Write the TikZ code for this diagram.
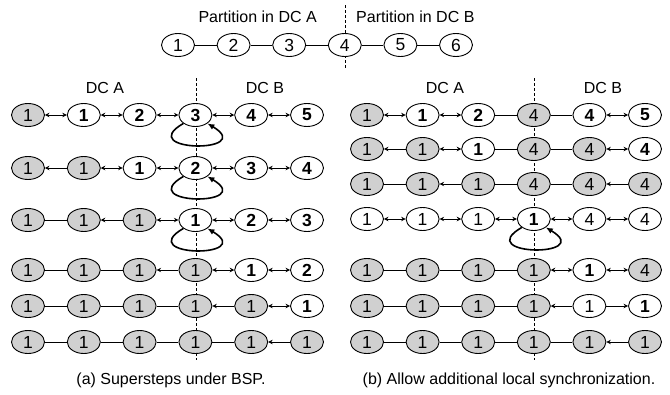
\documentclass[tikz,border=0pt]{standalone}
\usepackage{fontspec}
\setmainfont{Liberation Sans}
\usetikzlibrary{shapes.geometric,arrows.meta}
\definecolor{nodegray}{RGB}{208,208,208}
\newcommand\drawrow[6]{%
  \foreach \s/\t [count=\c] in {#5} {\node[\s] (#1-\c) at ({#3+#4*(\c-1)},#2) {\t};}
  \foreach \e [count=\c] in {#6} {\pgfmathtruncatemacro\d{\c+1}\draw[\e] (#1-\c) -- (#1-\d);}
}
\begin{document}
\begin{tikzpicture}[x=1pt,y=-1pt,
  font=\fontsize{16}{19}\selectfont,
  base/.style={ellipse,draw,line width=0.9pt,minimum width=33pt,minimum height=23pt,inner sep=0pt,font=\fontsize{17.5}{19}\selectfont},
  gnode/.style={base,fill=nodegray},
  wnode/.style={base,fill=white,font=\fontsize{17.5}{19}\selectfont\bfseries},
  nnode/.style={base,fill=white},
  ep/.style={line width=0.8pt},
  eb/.style={line width=0.8pt,{Stealth[length=4.5pt,width=4.5pt]}-{Stealth[length=4.5pt,width=4.5pt]}},
  el/.style={line width=0.8pt,{Stealth[length=4.5pt,width=4.5pt]}-},
  er/.style={line width=0.8pt,-{Stealth[length=4.5pt,width=4.5pt]}},
  divider/.style={line width=0.6pt,dash pattern=on 3pt off 2pt},
  loopar/.style={line width=1.6pt,-{Latex[length=7pt,width=6pt]}},
  lbl/.style={inner sep=0pt}
]
\useasboundingbox (0,0) rectangle (670,394);
% dividers
\coordinate (tdtop) at (345.5,5);
\coordinate (tdbot) at (345.5,68);
\coordinate (adtop) at (196,78);
\coordinate (adbot) at (196,360);
\coordinate (bdtop) at (534,78);
\coordinate (bdbot) at (534,360);
\draw[divider] (tdtop) -- (tdbot);
\draw[divider] (adtop) -- (adbot);
\draw[divider] (bdtop) -- (bdbot);
% top
\node[lbl,anchor=base east] (pa) at (317,22) {Partition in DC A};
\node[lbl,anchor=base west] (pb) at (356,22) {Partition in DC B};
\drawrow{t}{45}{178}{55.6}{nnode/1,nnode/2,nnode/3,nnode/4,nnode/5,nnode/6}{ep,ep,ep,ep,ep}
% panel a
\node[lbl,anchor=base] (adca) at (105,93) {DC A};
\node[lbl,anchor=base] (adcb) at (265,93) {DC B};
\drawrow{a1}{115}{28}{55.8}{gnode/1,wnode/1,wnode/2,wnode/3,wnode/4,wnode/5}{eb,eb,eb,eb,eb}
\drawrow{a2}{168}{28}{55.8}{gnode/1,gnode/1,wnode/1,wnode/2,wnode/3,wnode/4}{el,eb,eb,eb,eb}
\drawrow{a3}{220}{28}{55.8}{gnode/1,gnode/1,gnode/1,wnode/1,wnode/2,wnode/3}{ep,el,eb,eb,eb}
\drawrow{a4}{270}{28}{55.8}{gnode/1,gnode/1,gnode/1,gnode/1,wnode/1,wnode/2}{ep,ep,el,eb,eb}
\drawrow{a5}{306}{28}{55.8}{gnode/1,gnode/1,gnode/1,gnode/1,gnode/1,wnode/1}{ep,ep,ep,el,eb}
\drawrow{a6}{342}{28}{55.8}{gnode/1,gnode/1,gnode/1,gnode/1,gnode/1,gnode/1}{ep,ep,ep,ep,el}
\foreach \r in {a1,a2,a3}{
  \draw[loopar] (\r-4.215) .. controls +(-50,29) and +(50,30) .. (\r-4.-35);
}
\node[lbl,anchor=base] (capa) at (171,384) {(a) Supersteps under BSP.};
% panel b
\node[lbl,anchor=base] (bdca) at (445,93) {DC A};
\node[lbl,anchor=base] (bdcb) at (603,93) {DC B};
\drawrow{b1}{115}{367}{55.6}{gnode/1,wnode/1,wnode/2,gnode/4,wnode/4,wnode/5}{eb,eb,ep,ep,eb}
\drawrow{b2}{149}{367}{55.6}{gnode/1,gnode/1,wnode/1,gnode/4,gnode/4,wnode/4}{el,eb,ep,ep,eb}
\drawrow{b3}{184}{367}{55.6}{gnode/1,gnode/1,gnode/1,gnode/4,gnode/4,gnode/4}{ep,el,ep,ep,el}
\drawrow{b4}{219}{367}{55.6}{nnode/1,nnode/1,nnode/1,wnode/1,nnode/4,nnode/4}{eb,eb,eb,eb,eb}
\drawrow{b5}{270}{367}{55.6}{gnode/1,gnode/1,gnode/1,gnode/1,wnode/1,gnode/4}{ep,ep,ep,eb,eb}
\drawrow{b6}{306}{367}{55.6}{gnode/1,gnode/1,gnode/1,gnode/1,nnode/1,wnode/1}{ep,ep,ep,el,er}
\drawrow{b7}{342}{367}{55.6}{gnode/1,gnode/1,gnode/1,gnode/1,gnode/1,gnode/1}{ep,ep,ep,ep,el}
\draw[loopar] (b4-4.215) .. controls +(-50,29) and +(50,30) .. (b4-4.-35);
\node[lbl,anchor=base] (capb) at (509,384) {(b) Allow additional local synchronization.};
\end{tikzpicture}
\end{document}
